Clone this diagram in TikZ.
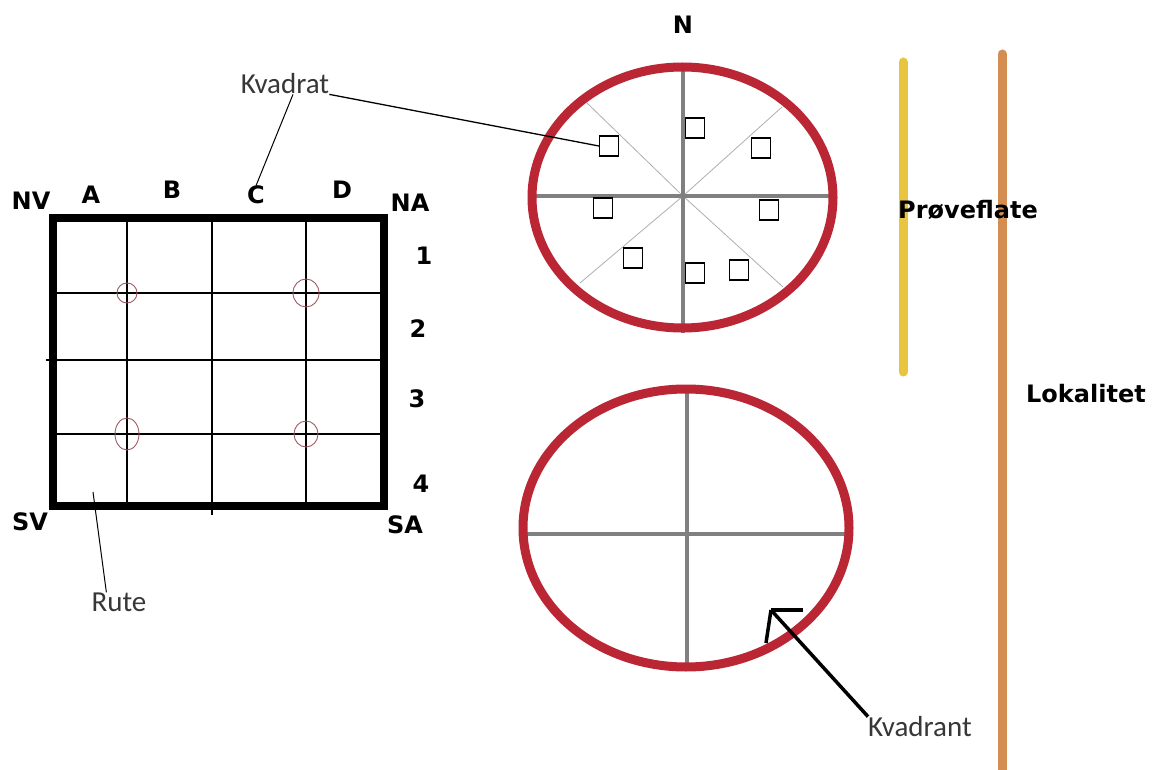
\documentclass[tikz,border=0pt]{standalone}
\usepackage{fontspec}
\setmainfont{Carlito}
\newfontfamily\labfont{DejaVu Sans}
\usetikzlibrary{arrows.meta}
\definecolor{ringred}{RGB}{186,38,52}
\definecolor{crossgray}{RGB}{128,128,128}
\definecolor{diaggray}{RGB}{175,175,175}
\definecolor{markred}{RGB}{160,90,100}
\definecolor{lineyellow}{RGB}{232,196,64}
\definecolor{lineorange}{RGB}{212,142,82}
\definecolor{notegray}{RGB}{55,55,55}
\tikzset{
  lab/.style={font=\labfont\bfseries\fontsize{24}{28}\selectfont, inner sep=0pt, text=black},
  note/.style={font=\fontsize{29}{32}\selectfont, inner sep=0pt, text=notegray},
  frame/.style={line width=8pt, draw=black},
  gridline/.style={line width=1.2pt, draw=black},
  pinmark/.style={draw=markred, line width=0.9pt},
  ring/.style={draw=ringred, line width=9pt},
  crossline/.style={draw=crossgray, line width=4pt},
  diag/.style={draw=diaggray, line width=0.8pt},
  plotbox/.style={draw=black, line width=1.3pt, minimum width=19pt, minimum height=20pt, inner sep=0pt},
  pointer/.style={draw=black, line width=1.3pt},
  bar/.style={line width=9pt, line cap=round}
}
\begin{document}
\begin{tikzpicture}[x=1pt,y=-1pt]
\useasboundingbox[fill=white] (0,0) rectangle (1152,770);

% ---- grid (Rute) ----
\draw[gridline] (127,218) -- (127,506);
\draw[gridline] (212,218) -- (212,515);
\draw[gridline] (306,218) -- (306,506);
\draw[gridline] (53,293) -- (384,293);
\draw[gridline] (46,360) -- (384,360);
\draw[gridline] (53,434) -- (384,434);
\draw[frame] (53,218) rectangle (384,506);
\draw[pinmark] (127,293) ellipse (10 and 10);
\draw[pinmark] (306,293) ellipse (13 and 14);
\draw[pinmark] (127,434) ellipse (12 and 16);
\draw[pinmark] (306,434) ellipse (12 and 13);

\node[lab] (nv) at (31,201) {NV};
\node[lab] (la) at (91,195) {A};
\node[lab] (lb) at (172,190) {B};
\node[lab] (lc) at (256,195) {C};
\node[lab] (ld) at (342,190) {D};
\node[lab] (na) at (410,203) {NA};
\node[lab] (r1) at (424,256) {1};
\node[lab] (r2) at (418,329) {2};
\node[lab] (r3) at (417,399) {3};
\node[lab] (r4) at (421,484) {4};
\node[lab] (sv) at (30,522) {SV};
\node[lab] (sa) at (405,525) {SA};

% ---- top plot (Prøveflate) ----
\coordinate (c1) at (683,196);
\draw[diag] (c1) -- (587,103);
\draw[diag] (c1) -- (782,107);
\draw[diag] (c1) -- (580,283);
\draw[diag] (c1) -- (783,287);
\draw[crossline] (683,63) -- (683,333);
\draw[crossline] (534,196) -- (832,196);
\draw[ring] (682.5,197.5) ellipse (150.5 and 130.5);
\node[plotbox] (q1) at (609,146) {};
\node[plotbox] (q2) at (695,128) {};
\node[plotbox] (q3) at (761,148) {};
\node[plotbox] (q4) at (603,208) {};
\node[plotbox] (q5) at (769,210) {};
\node[plotbox] (q6) at (633,258) {};
\node[plotbox] (q7) at (695,273) {};
\node[plotbox] (q8) at (739,270) {};
\node[lab] (nn) at (683,25) {N};

% ---- bottom plot (Kvadrant) ----
\draw[crossline] (687,391) -- (687,667);
\draw[crossline] (527,534) -- (848,534);
\draw[ring] (686,528) ellipse (163 and 139);

% ---- bars ----
\draw[bar, draw=lineyellow] (903,62) -- (903,372);
\draw[bar, draw=lineorange] (1002,54) -- (1002,775);
\node[lab] (pf) at (968,210) {Prøveflate};
\node[lab] (lok) at (1086,394) {Lokalitet};

% ---- notes ----
\node[note] (kvadrat) at (285,84) {Kvadrat};
\node[note] (rute) at (119,602) {Rute};
\node[note] (kvadrant) at (920,727) {Kvadrant};

\draw[pointer] (kvadrat.south east) -- (q1.west);
\draw[pointer, line width=1pt] ([xshift=8pt]kvadrat.south) -- (lc.north);
\coordinate (rutetop) at (93,492);
\draw[pointer, line width=1pt] ([xshift=15pt]rute.north west) -- (rutetop);
\coordinate (tip) at (771,610);
\draw[line width=3.5pt, draw=black] (kvadrant.north west) -- (tip);
\draw[line width=3.5pt, draw=black] (tip) -- (803,610);
\draw[line width=3.5pt, draw=black] (tip) -- (766,643);
\end{tikzpicture}
\end{document}
